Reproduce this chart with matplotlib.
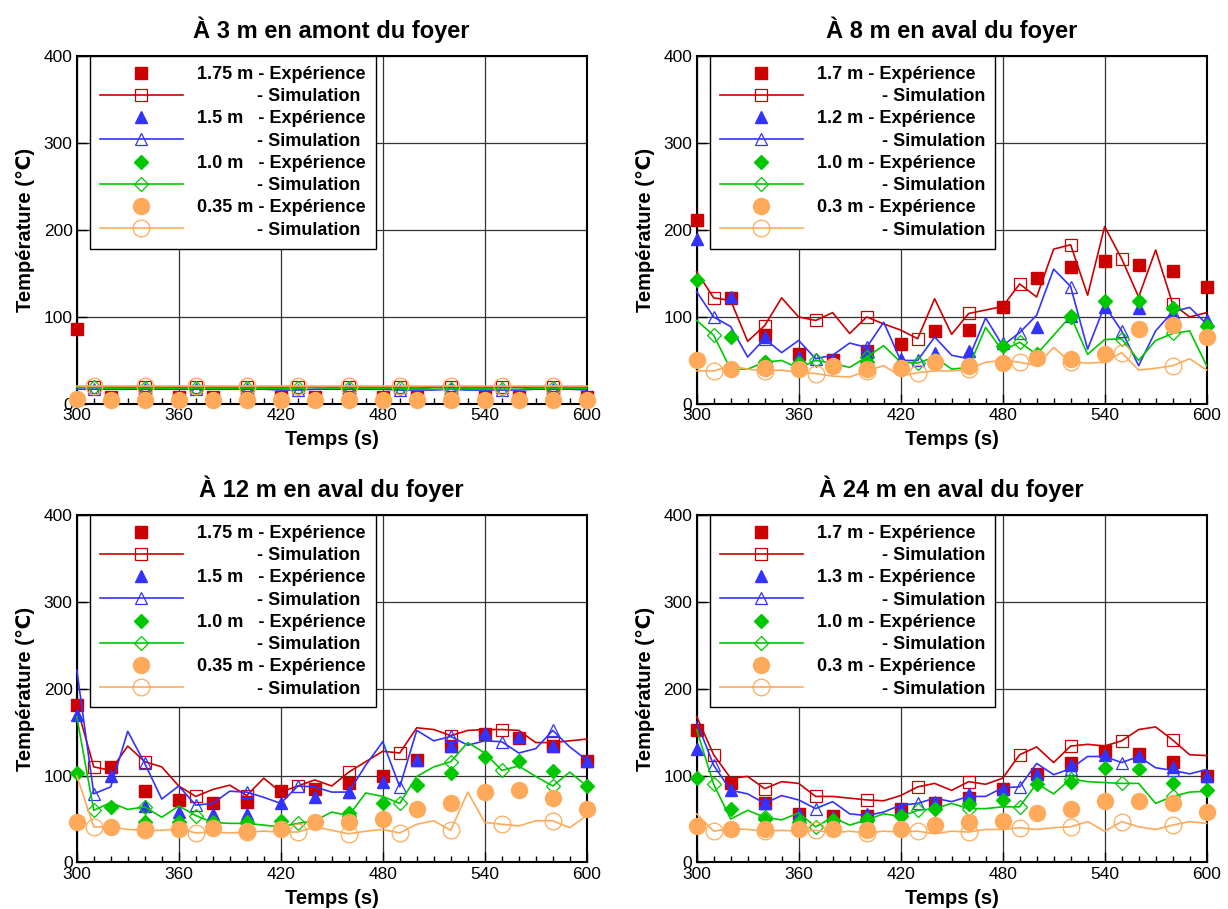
import numpy as np
import matplotlib
matplotlib.use('Agg')
from matplotlib import pyplot as plt
from matplotlib.lines import Line2D
from matplotlib.ticker import MultipleLocator

plt.rcParams['font.family'] = ['Liberation Sans', 'DejaVu Sans']

# time axes : simulation every 10 s, experiment every 20 s
t_sim = np.arange(300, 601, 10)
t_exp = np.arange(300, 601, 20)

# --- A 3 m en amont du foyer ---
tl_labels = ['1.75 m', '1.5 m  ', '1.0 m  ', '0.35 m']
tl_red_exp = [86, 8, 8, 8, 8, 8, 8, 8, 8, 8, 8, 8, 8, 8, 8, 8]
tl_blue_exp = [7, 7, 7, 7, 7, 7, 7, 7, 7, 7, 7, 7, 7, 7, 7, 7]
tl_green_exp = [6, 6, 6, 6, 6, 6, 6, 6, 6, 6, 6, 6, 6, 6, 6, 6]
tl_orange_exp = [6, 5, 5, 5, 5, 5, 5, 5, 5, 5, 5, 5, 5, 5, 5, 5]
tl_red_sim = [20, 20, 20, 20, 20, 20, 20, 20, 20, 20, 20, 20, 20, 20, 20, 20,
              20, 20, 20, 20, 20, 20, 20, 20, 20, 20, 20, 20, 20, 20, 20]
tl_blue_sim = [17, 17, 17, 17, 17, 17, 17, 17, 17, 17, 17, 17, 16, 16, 17, 17,
               17, 17, 17, 16, 16, 16, 17, 16, 16, 16, 16, 17, 17, 17, 16]
tl_green_sim = [19, 19, 18, 18, 18, 18, 18, 18, 18, 18, 18, 18, 18, 18, 19, 18,
                18, 18, 18, 18, 18, 17, 17, 18, 18, 17, 17, 18, 18, 18, 18]
tl_orange_sim = [21, 21, 21, 21, 21, 21, 21, 21, 21, 21, 21, 21, 21, 21, 21, 21,
                 21, 21, 21, 21, 21, 21, 21, 21, 21, 21, 21, 21, 21, 21, 21]

# --- A 8 m en aval du foyer ---
tr_labels = ['1.7 m', '1.2 m', '1.0 m', '0.3 m']
tr_red_exp = [212, 122, 79, 57, 50, 61, 69, 84, 85, 112, 145, 158, 164, 160, 153, 135]
tr_blue_exp = [190, 123, 77, 54, 50, 60, 52, 59, 61, 70, 89, 101, 111, 110, 102, 96]
tr_green_exp = [142, 77, 48, 47, 45, 48, 43, 50, 42, 67, 57, 100, 118, 118, 110, 90]
tr_orange_exp = [50, 40, 41, 40, 44, 40, 41, 48, 44, 47, 53, 52, 57, 86, 91, 77]
tr_red_sim = [152, 122, 119, 72, 90, 122, 100, 96, 105, 81, 100, 92, 85, 75, 121, 80,
              104, 108, 112, 138, 123, 178, 183, 125, 204, 167, 123, 177, 115, 100, 105]
tr_blue_sim = [129, 100, 89, 54, 75, 59, 73, 52, 56, 70, 65, 94, 50, 50, 77, 56,
               52, 99, 67, 82, 102, 155, 135, 63, 113, 84, 44, 84, 106, 111, 92]
tr_green_sim = [96, 79, 40, 40, 48, 50, 41, 50, 47, 42, 54, 67, 48, 47, 54, 40,
                42, 88, 61, 71, 57, 79, 101, 57, 74, 75, 50, 73, 81, 84, 44]
tr_orange_sim = [38, 38, 44, 40, 38, 39, 36, 35, 32, 31, 38, 44, 32, 36, 38, 38,
                 40, 48, 50, 48, 44, 65, 48, 47, 48, 59, 39, 41, 44, 52, 39]

# --- A 12 m en aval du foyer ---
bl_labels = ['1.75 m', '1.5 m  ', '1.0 m  ', '0.35 m']
bl_red_exp = [181, 110, 82, 72, 68, 70, 82, 85, 91, 99, 118, 134, 148, 143, 134, 117]
bl_blue_exp = [170, 99, 65, 58, 56, 56, 68, 75, 81, 93, 118, 134, 149, 144, 134, 117]
bl_green_exp = [103, 64, 47, 47, 46, 47, 48, 46, 57, 68, 89, 103, 121, 117, 105, 88]
bl_orange_exp = [46, 41, 39, 39, 40, 36, 39, 47, 47, 50, 62, 68, 81, 83, 74, 62]
bl_red_sim = [180, 110, 106, 134, 116, 110, 88, 76, 84, 89, 77, 97, 81, 88, 95, 88,
              104, 116, 128, 126, 155, 153, 146, 152, 153, 153, 152, 138, 138, 140, 142]
bl_blue_sim = [222, 79, 87, 151, 114, 73, 88, 66, 68, 82, 81, 75, 68, 88, 87, 81,
               81, 112, 139, 87, 152, 140, 145, 135, 140, 139, 126, 131, 152, 133, 118]
bl_green_sim = [168, 60, 69, 61, 64, 52, 65, 54, 46, 45, 45, 43, 41, 45, 48, 58,
                54, 80, 76, 68, 99, 110, 116, 138, 126, 106, 111, 99, 88, 104, 88]
bl_orange_sim = [100, 41, 41, 38, 37, 37, 39, 34, 35, 34, 35, 36, 35, 35, 41, 37,
                 33, 36, 38, 34, 44, 48, 37, 81, 46, 44, 42, 48, 48, 40, 54]

# --- A 24 m en aval du foyer ---
br_labels = ['1.7 m', '1.3 m', '1.0 m', '0.3 m']
br_red_exp = [153, 91, 68, 56, 53, 54, 61, 68, 74, 84, 102, 115, 128, 125, 116, 100]
br_blue_exp = [131, 83, 68, 56, 52, 56, 62, 70, 79, 85, 102, 112, 124, 122, 110, 100]
br_green_exp = [97, 62, 50, 47, 49, 50, 54, 61, 67, 72, 90, 93, 109, 108, 92, 83]
br_orange_exp = [42, 39, 39, 38, 38, 37, 38, 43, 47, 48, 57, 62, 71, 71, 68, 58]
br_red_sim = [168, 124, 97, 99, 85, 93, 91, 76, 76, 74, 72, 71, 77, 87, 91, 83,
              93, 90, 97, 124, 133, 115, 134, 136, 134, 140, 153, 156, 141, 124, 123]
br_blue_sim = [162, 112, 83, 79, 68, 77, 72, 62, 70, 56, 54, 58, 66, 68, 74, 70,
               76, 76, 86, 87, 114, 101, 108, 122, 122, 115, 122, 109, 106, 102, 107]
br_green_sim = [153, 90, 50, 60, 52, 49, 57, 41, 52, 43, 49, 56, 53, 60, 62, 68,
                62, 62, 64, 64, 91, 79, 96, 93, 92, 91, 91, 68, 76, 81, 82]
br_orange_sim = [56, 36, 39, 38, 36, 37, 36, 37, 34, 36, 34, 36, 35, 36, 33, 36,
                 35, 38, 38, 40, 38, 40, 41, 47, 36, 47, 41, 38, 43, 47, 45]

colors = ['#CC0000', '#3333FF', '#00C800', '#FFAA5A']
exp_markers = [('s', 8), ('^', 9), ('D', 7), ('o', 11.5)]
sim_markers = [('s', 9), ('^', 9), ('D', 7.5), ('o', 12)]


def draw_panel(ax, title, labels, exp, sim, sim_pad):
    handles = []
    names = []
    for i in range(4):
        c = colors[i]
        m, ms = exp_markers[i]
        ax.plot(t_exp, exp[i], ls='none', marker=m, ms=ms, color=c, mec=c, zorder=3,
                clip_on=False)
        m2, ms2 = sim_markers[i]
        ax.plot(t_sim, sim[i], color=c, lw=1.2, marker=m2, ms=ms2, mfc='none', mec=c,
                mew=0.9, markevery=slice(1, None, 3), zorder=3, clip_on=False)
        handles.append(Line2D([], [], ls='none', marker=m, ms=ms, color=c, mec=c))
        handles.append(Line2D([], [], color=c, lw=1.2, marker=m2, ms=ms2, mfc='none',
                              mec=c, mew=0.9))
        names.append(labels[i] + ' - Expérience')
        names.append(' ' * sim_pad + '- Simulation')

    ax.set_xlim(300, 600)
    ax.set_ylim(0, 400)
    ax.xaxis.set_major_locator(MultipleLocator(60))
    ax.xaxis.set_minor_locator(MultipleLocator(10))
    ax.yaxis.set_major_locator(MultipleLocator(100))
    ax.tick_params(which='major', direction='in', length=7, width=1, labelsize=12.5, pad=3)
    ax.tick_params(which='minor', direction='in', length=4, width=1)
    ax.grid(True, which='major', color='#333333', lw=0.9)
    ax.set_axisbelow(True)
    for s in ax.spines.values():
        s.set_linewidth(1.5)
    ax.set_title(title, fontsize=17, fontweight='bold', pad=13)
    ax.set_xlabel('Temps (s)', fontsize=14.5, fontweight='bold', labelpad=5)
    ax.set_ylabel('Température (℃)', fontsize=14.5, fontweight='bold', labelpad=6)

    leg = ax.legend(handles, names, loc='upper right', bbox_to_anchor=(0.586, 1.0),
                    borderaxespad=0, prop={'size': 13, 'weight': 'bold'},
                    handlelength=4.6, handletextpad=0.8, labelspacing=0.29,
                    borderpad=0.55, fancybox=False, framealpha=1, edgecolor='black',
                    numpoints=1)
    leg.get_frame().set_linewidth(1.0)
    leg.set_zorder(5)


fig = plt.figure(figsize=(12.28, 9.09), dpi=100)
ax_tl = fig.add_axes([0.0625, 0.5556, 0.4153, 0.3828])
ax_tr = fig.add_axes([0.5673, 0.5556, 0.4153, 0.3828])
ax_bl = fig.add_axes([0.0625, 0.0512, 0.4153, 0.3823])
ax_br = fig.add_axes([0.5673, 0.0512, 0.4153, 0.3823])

draw_panel(ax_tl, 'À 3 m en amont du foyer', tl_labels,
           [tl_red_exp, tl_blue_exp, tl_green_exp, tl_orange_exp],
           [tl_red_sim, tl_blue_sim, tl_green_sim, tl_orange_sim], 12)
draw_panel(ax_tr, 'À 8 m en aval du foyer', tr_labels,
           [tr_red_exp, tr_blue_exp, tr_green_exp, tr_orange_exp],
           [tr_red_sim, tr_blue_sim, tr_green_sim, tr_orange_sim], 13)
draw_panel(ax_bl, 'À 12 m en aval du foyer', bl_labels,
           [bl_red_exp, bl_blue_exp, bl_green_exp, bl_orange_exp],
           [bl_red_sim, bl_blue_sim, bl_green_sim, bl_orange_sim], 12)
draw_panel(ax_br, 'À 24 m en aval du foyer', br_labels,
           [br_red_exp, br_blue_exp, br_green_exp, br_orange_exp],
           [br_red_sim, br_blue_sim, br_green_sim, br_orange_sim], 13)

fig.savefig('out.png', dpi=100)
